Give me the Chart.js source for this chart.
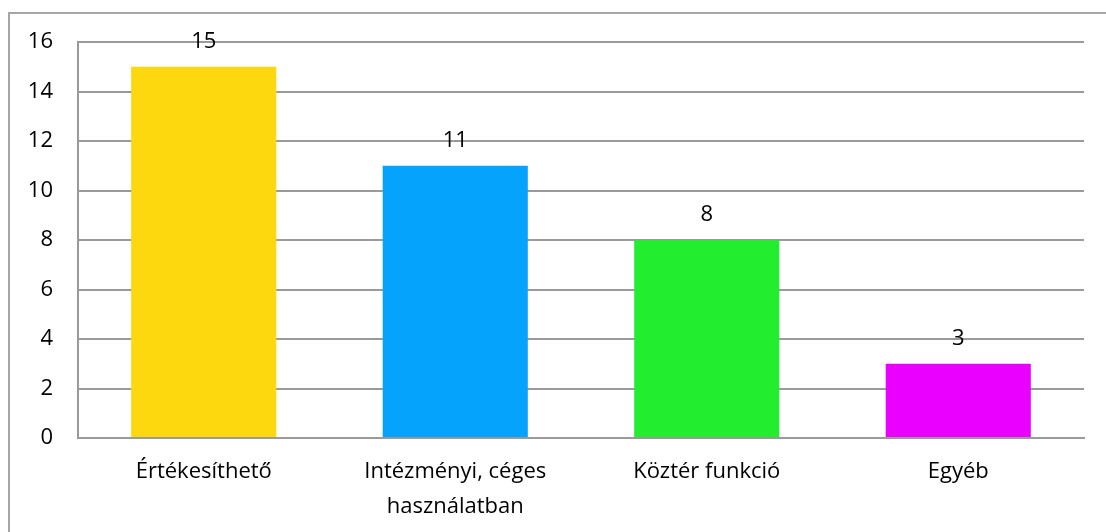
<!DOCTYPE html>
<html>
<head>
<meta charset="utf-8">
<script src="https://cdn.jsdelivr.net/npm/chart.js@4/dist/chart.umd.min.js"></script>
<style>
  html, body { margin:0; padding:0; background:#fff; overflow:hidden; }
  .frame { position:absolute; left:8px; top:12px; width:1300px; height:700px; border-left:2px solid #a6a6a6; border-top:2px solid #a6a6a6; }
  .wrap { position:absolute; left:0; top:0; width:1106px; height:532px; }
</style>
</head>
<body>
<div class="frame"></div>
<div class="wrap"><canvas id="chart"></canvas></div>
<script>
// data
const categories = ['Értékesíthető', ['Intézményi, céges', 'használatban'], 'Köztér funkció', 'Egyéb'];
const values = [15, 11, 8, 3];
const barColors = ['#FDD80E', '#05A3FB', '#22EE2F', '#E900FF'];
const yTicks = [0, 2, 4, 6, 8, 10, 12, 14, 16];

const FONT = '"Open Sans", "Liberation Sans", sans-serif';

// draw the value above each bar, positioned from the bar element
const valueLabels = {
  id: 'valueLabels',
  afterDatasetsDraw(chart) {
    const ctx = chart.ctx;
    const meta = chart.getDatasetMeta(0);
    ctx.save();
    ctx.font = '22px ' + FONT;
    ctx.fillStyle = '#000';
    ctx.textAlign = 'center';
    ctx.textBaseline = 'middle';
    meta.data.forEach((bar, i) => {
      ctx.fillText(String(values[i]), bar.x, bar.y - 25);
    });
    ctx.restore();
  }
};

new Chart(document.getElementById('chart'), {
  type: 'bar',
  data: {
    labels: categories,
    datasets: [{ data: values, backgroundColor: barColors, borderWidth: 0,
      categoryPercentage: 1, barPercentage: 0.577 }]
  },
  options: {
    responsive: true, maintainAspectRatio: false, animation: false,
    layout: { padding: { left: 0, right: 22, top: 42, bottom: 0 } },
    plugins: { legend: { display: false }, tooltip: { enabled: false } },
    scales: {
      y: {
        min: 0, max: 16,
        afterFit: s => { s.width = 78; },
        afterBuildTicks: s => { s.ticks = yTicks.map(v => ({ value: v })); },
        grid: { color: '#9a9a9a', lineWidth: 2, drawTicks: false },
        border: { color: '#9a9a9a', width: 2 },
        ticks: { color: '#000', padding: 25, font: { family: FONT, size: 22 } }
      },
      x: {
        afterFit: s => { s.height = 94; },
        grid: { display: false },
        border: { color: '#9a9a9a', width: 2 },
        ticks: { color: '#000', padding: 8, maxRotation: 0, autoSkip: false,
          font: { family: FONT, size: 22, lineHeight: 1.6 } }
      }
    }
  },
  plugins: [valueLabels]
});
</script>
</body>
</html>
